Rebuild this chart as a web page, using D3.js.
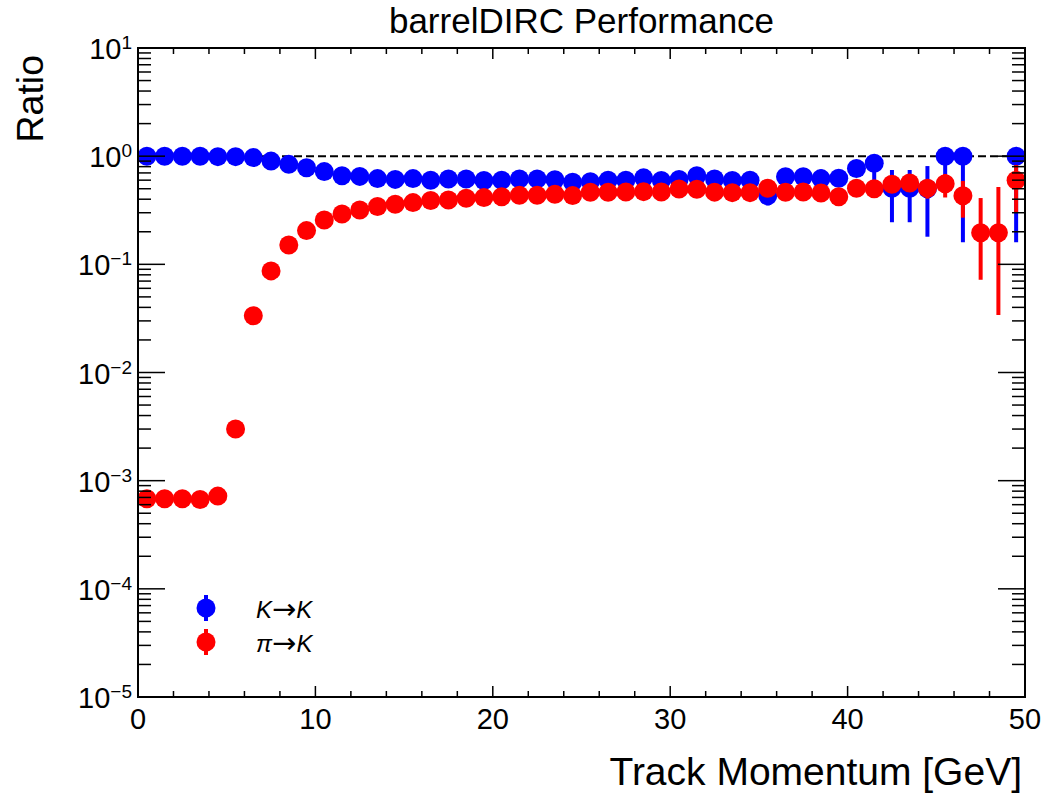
<!DOCTYPE html>
<html>
<head>
<meta charset="utf-8">
<script src="https://cdn.jsdelivr.net/npm/d3@7"></script>
<style>
  body { margin: 0; background: #fff; }
  svg { display: block; font-family: "Liberation Sans", Arial, sans-serif; }
</style>
</head>
<body>
<div id="chart"></div>
<script>
// bin centres [GeV]
var momentum = [0.5, 1.5, 2.5, 3.5, 4.5, 5.5, 6.5, 7.5, 8.5, 9.5,
  10.5, 11.5, 12.5, 13.5, 14.5, 15.5, 16.5, 17.5, 18.5, 19.5,
  20.5, 21.5, 22.5, 23.5, 24.5, 25.5, 26.5, 27.5, 28.5, 29.5,
  30.5, 31.5, 32.5, 33.5, 34.5, 35.5, 36.5, 37.5, 38.5, 39.5,
  40.5, 41.5, 42.5, 43.5, 44.5, 45.5, 46.5, 47.5, 48.5, 49.5]

// K -> K
var kaonRatio = [1.0, 1.0, 1.0, 1.0, 0.99, 0.99, 0.97, 0.90, 0.84, 0.78,
  0.72, 0.66, 0.65, 0.62, 0.61, 0.62, 0.60, 0.615, 0.615, 0.595,
  0.60, 0.615, 0.615, 0.605, 0.575, 0.58, 0.60, 0.60, 0.63, 0.595,
  0.61, 0.66, 0.615, 0.595, 0.60, 0.43, 0.645, 0.645, 0.62, 0.625,
  0.77, 0.86, 0.505, 0.505, 0.50, 1.0, 1.0, null, null, 1.0]
var kaonErrLo = [0, 0, 0, 0, 0, 0, 0, 0, 0, 0,
  0, 0, 0, 0, 0, 0, 0, 0, 0, 0,
  0, 0, 0, 0, 0, 0, 0, 0, 0, 0,
  0, 0, 0, 0, 0, 0.08, 0.02, 0.02, 0.03, 0.03,
  0.03, 0.30, 0.26, 0.26, 0.32, 0.45, 0.84, 0, 0, 0.84]
var kaonErrHi = [0, 0, 0, 0, 0, 0, 0, 0, 0, 0,
  0, 0, 0, 0, 0, 0, 0, 0, 0, 0,
  0, 0, 0, 0, 0, 0, 0, 0, 0, 0,
  0, 0, 0, 0, 0, 0.06, 0.02, 0.02, 0.13, 0.03,
  0.03, 0.14, 0.24, 0.24, 0.31, 0, 0, 0, 0, 0]

// pi -> K
var pionRatio = [0.00068, 0.00068, 0.00068, 0.00067, 0.00072, 0.0030, 0.0335, 0.087, 0.151, 0.205,
  0.257, 0.292, 0.318, 0.342, 0.36, 0.372, 0.389, 0.394, 0.408, 0.414,
  0.422, 0.435, 0.435, 0.445, 0.432, 0.464, 0.464, 0.467, 0.47, 0.467,
  0.497, 0.494, 0.465, 0.46, 0.46, 0.505, 0.464, 0.467, 0.457, 0.422,
  0.505, 0.50, 0.55, 0.565, 0.505, 0.555, 0.43, 0.196, 0.196, 0.60]
var pionErrLo = [0, 0, 0, 0, 0, 0, 0, 0, 0, 0,
  0, 0, 0, 0, 0, 0, 0, 0, 0, 0,
  0, 0, 0, 0, 0, 0, 0, 0, 0, 0,
  0, 0, 0, 0, 0, 0, 0, 0, 0, 0,
  0.02, 0.03, 0.05, 0.05, 0.10, 0.14, 0.16, 0.124, 0.162, 0.30]
var pionErrHi = [0, 0, 0, 0, 0, 0, 0, 0, 0, 0,
  0, 0, 0, 0, 0, 0, 0, 0, 0, 0,
  0, 0, 0, 0, 0, 0, 0, 0, 0, 0,
  0, 0, 0, 0, 0, 0, 0, 0, 0, 0,
  0.02, 0.03, 0.05, 0.05, 0.10, 0.13, 0.16, 0.214, 0.324, 0.23]

var xTicks = [0, 10, 20, 30, 40, 50]
var yDecades = [-5, -4, -3, -2, -1, 0, 1]

var width = 1050,
  height = 801,
  padLeft = 138,
  padRight = 1025,
  padTop = 48,
  padBottom = 697

var svg = d3
  .select("#chart")
  .append("svg")
  .attr("width", width)
  .attr("height", height)

var x = d3.scaleLinear().domain([0, 50]).range([padLeft, padRight])
var y = d3.scaleLog().domain([1e-5, 10]).range([padBottom, padTop])

var series = [
  { name: "kaon", color: "#0000ff", val: kaonRatio, lo: kaonErrLo, hi: kaonErrHi },
  { name: "pion", color: "#ff0000", val: pionRatio, lo: pionErrLo, hi: pionErrHi }
]

/* ------- dashed line at 1 -------*/
svg.append("line")
  .attr("x1", x(0)).attr("x2", x(50))
  .attr("y1", y(1)).attr("y2", y(1))
  .attr("stroke", "#000")
  .attr("stroke-width", 2)
  .attr("stroke-dasharray", "8,4")

/* ------- points with error bars -------*/
series.forEach(function(s) {
  var pts = momentum.map(function(m, i) {
    return { x: m, v: s.val[i], lo: s.lo[i], hi: s.hi[i] }
  }).filter(function(d) { return d.v != null && d.v > 0 })

  var g = svg.append("g").attr("class", s.name)

  g.selectAll("line.err")
    .data(pts.filter(function(d) { return d.lo > 0 || d.hi > 0 }))
    .enter()
    .append("line")
    .attr("class", "err")
    .attr("x1", function(d) { return x(d.x) })
    .attr("x2", function(d) { return x(d.x) })
    .attr("y1", function(d) { return y(Math.max(d.v - d.lo, 1e-5)) })
    .attr("y2", function(d) { return y(d.v + d.hi) })
    .attr("stroke", s.color)
    .attr("stroke-width", 4)

  g.selectAll("circle")
    .data(pts)
    .enter()
    .append("circle")
    .attr("cx", function(d) { return x(d.x) })
    .attr("cy", function(d) { return y(d.v) })
    .attr("r", 9.5)
    .attr("fill", s.color)
})

/* ------- frame and ticks -------*/
svg.append("rect")
  .attr("x", padLeft).attr("y", padTop)
  .attr("width", padRight - padLeft).attr("height", padBottom - padTop)
  .attr("fill", "none")
  .attr("stroke", "#000")
  .attr("stroke-width", 2)

var ticks = svg.append("g").attr("stroke", "#000").attr("stroke-width", 1.5)

d3.range(0, 51, 2).forEach(function(t) {
  var len = t % 10 === 0 ? 11 : 6
  ticks.append("line").attr("x1", x(t)).attr("x2", x(t)).attr("y1", padBottom).attr("y2", padBottom - len)
  ticks.append("line").attr("x1", x(t)).attr("x2", x(t)).attr("y1", padTop).attr("y2", padTop + len)
})

yDecades.forEach(function(e) {
  var base = Math.pow(10, e)
  ticks.append("line").attr("x1", padLeft).attr("x2", padLeft + 27).attr("y1", y(base)).attr("y2", y(base))
  ticks.append("line").attr("x1", padRight).attr("x2", padRight - 27).attr("y1", y(base)).attr("y2", y(base))
  if (e === 1) return
  for (var k = 2; k <= 9; k++) {
    ticks.append("line").attr("x1", padLeft).attr("x2", padLeft + 13).attr("y1", y(k * base)).attr("y2", y(k * base))
    ticks.append("line").attr("x1", padRight).attr("x2", padRight - 13).attr("y1", y(k * base)).attr("y2", y(k * base))
  }
})

/* ------- tick labels -------*/
svg.selectAll("text.xlab")
  .data(xTicks)
  .enter()
  .append("text")
  .attr("class", "xlab")
  .attr("x", function(d) { return x(d) })
  .attr("y", 729)
  .attr("text-anchor", "middle")
  .attr("font-size", 29)
  .text(function(d) { return d })

var ylab = svg.selectAll("text.ylab")
  .data(yDecades)
  .enter()
  .append("text")
  .attr("class", "ylab")
  .attr("x", 132)
  .attr("y", function(d) { return y(Math.pow(10, d)) + 11 })
  .attr("text-anchor", "end")
  .attr("font-size", 29)
ylab.append("tspan").text("10")
ylab.append("tspan")
  .attr("dy", -10)
  .attr("font-size", 19)
  .text(function(d) { return d < 0 ? "\u2212" + (-d) : d })

/* ------- titles -------*/
svg.append("text")
  .attr("x", (padLeft + padRight) / 2)
  .attr("y", 33)
  .attr("text-anchor", "middle")
  .attr("font-size", 35)
  .text("barrelDIRC Performance")

svg.append("text")
  .attr("x", 1022)
  .attr("y", 785)
  .attr("text-anchor", "end")
  .attr("font-size", 39)
  .text("Track Momentum [GeV]")

svg.append("text")
  .attr("transform", "translate(43,55) rotate(-90)")
  .attr("text-anchor", "end")
  .attr("font-size", 37.5)
  .text("Ratio")

/* ------- legend -------*/
var legendFrom = ["K", "\u03C0"]
var legend = svg.append("g")
series.forEach(function(s, i) {
  var ly = 608 + i * 34
  legend.append("line")
    .attr("x1", 206).attr("x2", 206)
    .attr("y1", ly - 13).attr("y2", ly + 13)
    .attr("stroke", s.color).attr("stroke-width", 4)
  legend.append("circle")
    .attr("cx", 206).attr("cy", ly).attr("r", 9.5)
    .attr("fill", s.color)
  var t = legend.append("text")
    .attr("x", 256).attr("y", ly + 10)
    .attr("font-size", 24)
  t.append("tspan").attr("font-style", "italic").text(legendFrom[i])
  t.append("tspan")
    .attr("font-family", "DejaVu Sans")
    .attr("font-size", 29)
    .attr("dy", 1)
    .text("\u2192")
  t.append("tspan").attr("font-style", "italic").attr("dy", -1).text("K")
})
</script>
</body>
</html>
